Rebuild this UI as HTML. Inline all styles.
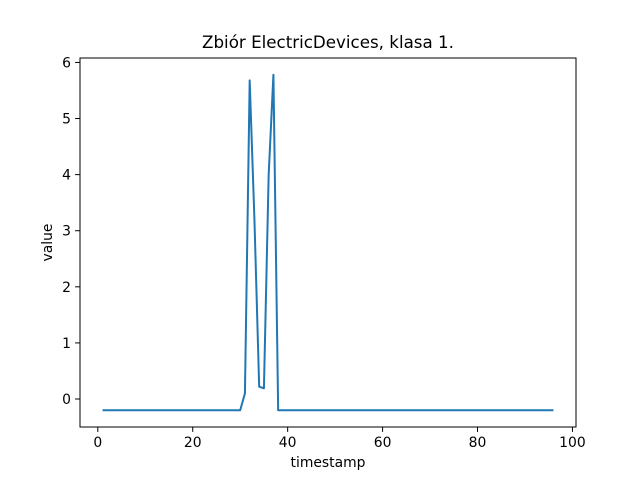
<!DOCTYPE html>
<html><head><meta charset="utf-8"><style>body{margin:0;background:#fff}svg text{font-family:"DejaVu Sans","Liberation Sans",sans-serif;fill:#000}</style></head>
<body>
<svg id="chart" width="640" height="480"></svg>
<script>
const xValues=[];for(let i=1;i<=96;i++)xValues.push(i);
const yValues=[-0.2,-0.2,-0.2,-0.2,-0.2,-0.2,-0.2,-0.2,-0.2,-0.2,-0.2,-0.2,-0.2,-0.2,-0.2,-0.2,-0.2,-0.2,-0.2,-0.2,-0.2,-0.2,-0.2,-0.2,-0.2,-0.2,-0.2,-0.2,-0.2,-0.2,0.1,5.68,3.2,0.22,0.19,4.0,5.78,-0.2,-0.2,-0.2,-0.2,-0.2,-0.2,-0.2,-0.2,-0.2,-0.2,-0.2,-0.2,-0.2,-0.2,-0.2,-0.2,-0.2,-0.2,-0.2,-0.2,-0.2,-0.2,-0.2,-0.2,-0.2,-0.2,-0.2,-0.2,-0.2,-0.2,-0.2,-0.2,-0.2,-0.2,-0.2,-0.2,-0.2,-0.2,-0.2,-0.2,-0.2,-0.2,-0.2,-0.2,-0.2,-0.2,-0.2,-0.2,-0.2,-0.2,-0.2,-0.2,-0.2,-0.2,-0.2,-0.2,-0.2,-0.2,-0.2];
const xTicks=[0,20,40,60,80,100];
const yTicks=[0,1,2,3,4,5,6];
const NS='http://www.w3.org/2000/svg';
const svg=document.getElementById('chart');
const L=80,R=576,T=58,B=427;
const xmin=Math.min(...xValues),xmax=Math.max(...xValues),xm=(xmax-xmin)*0.05;
const ymin=Math.min(...yValues),ymax=Math.max(...yValues),ym=(ymax-ymin)*0.05;
const sx=v=>L+(v-(xmin-xm))/((xmax+xm)-(xmin-xm))*(R-L);
const sy=v=>B-(v-(ymin-ym))/((ymax+ym)-(ymin-ym))*(B-T);
function mk(t,a,txt){const e=document.createElementNS(NS,t);for(const k in a)e.setAttribute(k,a[k]);if(txt!==undefined)e.textContent=txt;svg.appendChild(e);return e;}
let d='';xValues.forEach((x,i)=>{d+=(i?'L':'M')+sx(x).toFixed(2)+','+sy(yValues[i]).toFixed(2);});
const line=mk('path',{d:d,fill:'none',stroke:'#1f77b4','stroke-width':2,'stroke-linejoin':'round'});


const frame=mk('rect',{x:L,y:T,width:R-L,height:B-T,fill:'none',stroke:'#000','stroke-width':1});


xTicks.forEach(v=>{const x=sx(v);mk('line',{x1:x,x2:x,y1:B,y2:B+4.9,stroke:'#000','stroke-width':1});
const t=mk('text',{x:x,y:B+20,'text-anchor':'middle','font-size':13.9},v);

});
yTicks.forEach(v=>{const y=sy(v);mk('line',{x1:L-4.9,x2:L,y1:y,y2:y,stroke:'#000','stroke-width':1});
const t=mk('text',{x:L-9,y:y+5,'text-anchor':'end','font-size':13.9},v);

});
const ti=mk('text',{x:(L+R)/2,y:T-10,'text-anchor':'middle','font-size':16.7},'Zbiór ElectricDevices, klasa 1.');


const xl=mk('text',{x:(L+R)/2,y:467,'text-anchor':'middle','font-size':13.9},'timestamp');


const yl=mk('text',{x:52,y:(T+B)/2,'text-anchor':'middle','font-size':13.9,transform:'rotate(-90 52 '+(T+B)/2+')'},'value');


</script>
</body></html>
